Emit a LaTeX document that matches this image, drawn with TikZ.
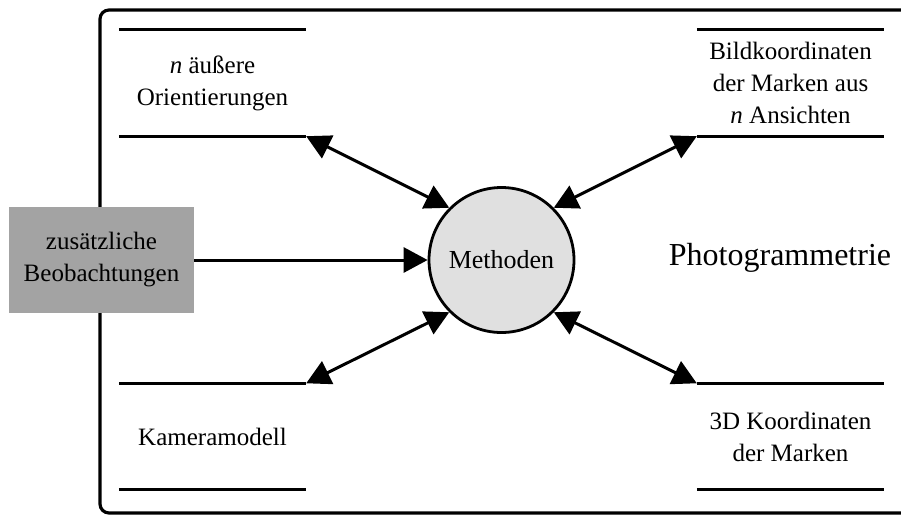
\documentclass[tikz,border=0pt]{standalone}
\usepackage{fontspec}
\setmainfont{Liberation Serif}
\usetikzlibrary{arrows.meta}
\definecolor{boxgray}{HTML}{A3A3A3}
\definecolor{circgray}{HTML}{E0E0E0}
\begin{document}
\begin{tikzpicture}[x=1pt,y=-1pt,
  store/.style={minimum width=187pt,minimum height=106pt,inner sep=0pt,align=center,
    font=\fontsize{25}{32}\selectfont},
  storeline/.style={line width=3.2pt},
  conn/.style={line width=3pt,{Triangle[length=24pt,width=25pt]}-{Triangle[length=24pt,width=25pt]}},
  oneway/.style={line width=3pt,-{Triangle[length=24pt,width=25pt]}}]
\useasboundingbox (0,0) rectangle (901,515);
\fill[white] (0,0) rectangle (901,515);
\begin{scope}
\clip (0,0) rectangle (901,515);
\draw[line width=3.2pt,rounded corners=9pt] (930,10) -- (100,10) -- (100,513) -- (930,513);
\end{scope}
% data stores
\node[store] (tl) at (212.5,83) {\textit{n} äußere\\Orientierungen};
\node[store] (tr) at (790.5,83) {Bildkoordinaten\\der Marken aus\\\textit{n} Ansichten};
\node[store] (bl) at (212.5,436.5) {Kameramodell};
\node[store] (br) at (790.5,436.5) {3D Koordinaten\\der Marken};
\foreach \s in {tl,tr,bl,br}{
  \draw[storeline] (\s.north west) -- (\s.north east);
  \draw[storeline] (\s.south west) -- (\s.south east);
}
% central process
\node[circle,draw,line width=2.8pt,fill=circgray,minimum size=145pt,inner sep=0pt,
  font=\fontsize{26}{32}\selectfont] (m) at (501.5,260) {Methoden};
% external entity
\node[fill=boxgray,minimum width=185pt,minimum height=106pt,inner sep=0pt,align=center,
  font=\fontsize{25}{32}\selectfont] (box) at (101.5,260) {zusätzliche\\Beobachtungen};
% label
\node[font=\fontsize{32}{38}\selectfont,inner sep=0pt] (ph) at (780,258) {Photogrammetrie};
% connectors
\draw[oneway] (box.east) -- (m.west);
\draw[conn] (tl.south east) -- (m.135);
\draw[conn] (tr.south west) -- (m.45);
\draw[conn] (bl.north east) -- (m.225);
\draw[conn] (br.north west) -- (m.315);
\end{tikzpicture}
\end{document}
